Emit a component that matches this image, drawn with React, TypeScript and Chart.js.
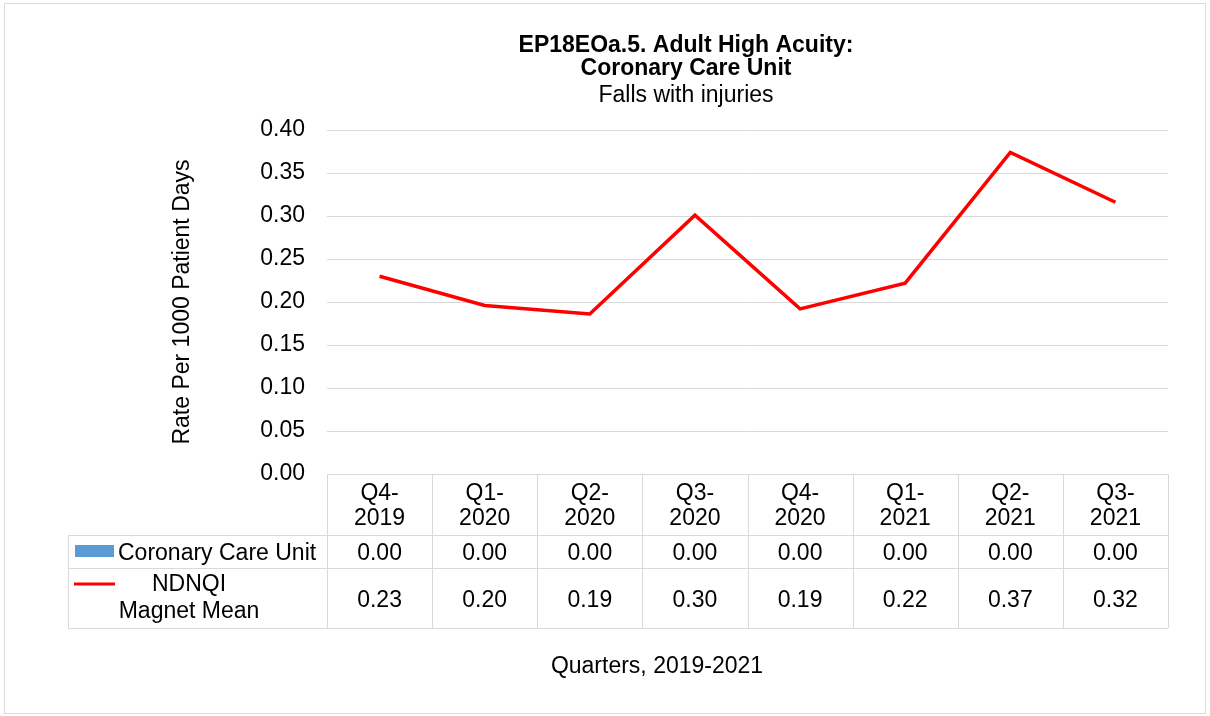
import React, { useEffect, useRef } from "react";
import { Chart, registerables } from "chart.js";

Chart.register(...registerables);

const categories = ["Q4-2019", "Q1-2020", "Q2-2020", "Q3-2020", "Q4-2020", "Q1-2021", "Q2-2021", "Q3-2021"];
const unitValues = [0, 0, 0, 0, 0, 0, 0, 0];
const magnetMean = [0.23, 0.196, 0.186, 0.301, 0.192, 0.222, 0.374, 0.316];
const titleLines = ["EP18EOa.5. Adult High Acuity:", "Coronary Care Unit"];
const subtitleText = "Falls with injuries";
const yAxisTitle = "Rate Per 1000 Patient Days";
const xAxisTitle = "Quarters, 2019-2021";
const unitName = "Coronary Care Unit";
const meanNameLines = ["NDNQI", "Magnet Mean"];
const yMin = 0;
const yMax = 0.4;
const yStep = 0.05;

const FONT = "'Liberation Sans', Arial, Helvetica, sans-serif";
const BLUE = "#5b9bd5";
const RED = "#ff0000";
const GRID = "#d9d9d9";

const tablePlugin = {
  id: "dataTable",
  afterDraw(chart: any) {
    const { ctx, chartArea } = chart;
    const xs = chart.scales.x;
    const n = categories.length;
    const colW = (chartArea.right - chartArea.left) / n;
    const top = chartArea.bottom;
    const hdrBottom = top + 61;
    const r1Bottom = hdrBottom + 33;
    const r2Bottom = r1Bottom + 60;
    const leftX = 68;
    const px = (v: number) => Math.round(v) + 0.5;

    ctx.save();
    ctx.strokeStyle = GRID;
    ctx.lineWidth = 1;
    const line = (x1: number, y1: number, x2: number, y2: number) => {
      ctx.beginPath();
      ctx.moveTo(x1, y1);
      ctx.lineTo(x2, y2);
      ctx.stroke();
    };
    [hdrBottom, r1Bottom, r2Bottom].forEach((y) => line(leftX, px(y), chartArea.right, px(y)));
    for (let i = 0; i <= n; i++) {
      const xb = i < n ? xs.getPixelForValue(i) - colW / 2 : xs.getPixelForValue(n - 1) + colW / 2;
      line(px(xb), top, px(xb), r2Bottom);
    }
    line(px(leftX), hdrBottom, px(leftX), r2Bottom);

    ctx.fillStyle = "#000";
    ctx.font = `23px ${FONT}`;
    ctx.textAlign = "center";
    ctx.textBaseline = "middle";
    const ds0 = chart.data.datasets[0].data;
    const ds1 = chart.data.datasets[1].data;
    categories.forEach((c, i) => {
      const cx = xs.getPixelForValue(i);
      const idx = c.indexOf("-");
      ctx.fillText(c.slice(0, idx + 1), cx, top + 20);
      ctx.fillText(c.slice(idx + 1), cx, top + 45);
      ctx.fillText(Number(ds0[i]).toFixed(2), cx, (hdrBottom + r1Bottom) / 2 + 2);
      ctx.fillText(Number(ds1[i]).toFixed(2), cx, (r1Bottom + r2Bottom) / 2 + 3);
    });

    // legend keys
    ctx.fillStyle = BLUE;
    ctx.fillRect(75, hdrBottom + 10, 39, 12);
    ctx.strokeStyle = RED;
    ctx.lineWidth = 3;
    line(74, r1Bottom + 16, 115, r1Bottom + 16);
    ctx.fillStyle = "#000";
    ctx.textAlign = "left";
    ctx.fillText(unitName, 118, (hdrBottom + r1Bottom) / 2 + 2);
    ctx.textAlign = "center";
    ctx.fillText(meanNameLines[0], 189, r1Bottom + 17);
    ctx.fillText(meanNameLines[1], 189, r1Bottom + 44);

    // x axis title
    ctx.fillText(xAxisTitle, 657, 667);

    // outer frame
    ctx.strokeStyle = "#dcdcdc";
    ctx.lineWidth = 1;
    ctx.strokeRect(4.5, 3.5, 1201, 710);
    ctx.restore();
  },
};

export default function App() {
  const ref = useRef<HTMLCanvasElement | null>(null);
  useEffect(() => {
    if (!ref.current) return;
    const chart = new Chart(ref.current, {
      type: "bar",
      data: {
        labels: categories,
        datasets: [
          {
            type: "bar",
            label: unitName,
            data: unitValues,
            backgroundColor: BLUE,
            borderWidth: 0,
            order: 2,
          },
          {
            type: "line",
            label: meanNameLines.join(" "),
            data: magnetMean,
            borderColor: RED,
            backgroundColor: RED,
            borderWidth: 3.5,
            pointRadius: 0,
            tension: 0,
            fill: false,
            order: 1,
          },
        ],
      } as any,
      options: {
        responsive: false,
        animation: false,
        layout: { padding: { left: 204, right: 42, top: 0, bottom: 0 } },
        plugins: {
          legend: { display: false },
          tooltip: { enabled: false },
          title: {
            display: true,
            text: titleLines,
            color: "#000",
            font: { family: FONT, size: 23, weight: "bold", lineHeight: 1 },
            padding: { top: 34, bottom: 3 },
          },
          subtitle: {
            display: true,
            text: subtitleText,
            color: "#000",
            font: { family: FONT, size: 23, lineHeight: 1 },
            padding: { top: 1, bottom: 23 },
          },
        },
        scales: {
          x: {
            type: "category",
            offset: true,
            grid: { display: false },
            border: { display: false },
            ticks: { display: false },
            afterFit: (s: any) => {
              s.height = 242;
            },
          },
          y: {
            min: yMin,
            max: yMax,
            border: { display: false },
            grid: { color: GRID, lineWidth: 1, drawTicks: false },
            ticks: {
              stepSize: yStep,
              padding: 22,
              color: "#000",
              font: { family: FONT, size: 23 },
              callback: (v: any) => Number(v).toFixed(2),
            },
            title: {
              display: true,
              text: yAxisTitle,
              color: "#000",
              font: { family: FONT, size: 23, lineHeight: 1.2 },
              padding: { top: -35, bottom: 4 },
            },
            afterFit: (s: any) => {
              s.width = 123;
            },
          },
        },
      } as any,
      plugins: [tablePlugin],
    });
    return () => chart.destroy();
  }, []);
  return (
    <div style={{ position: "absolute", left: 0, top: 0, width: 1210, height: 716, background: "#fff" }}>
      <canvas ref={ref} width={1210} height={716} />
    </div>
  );
}
